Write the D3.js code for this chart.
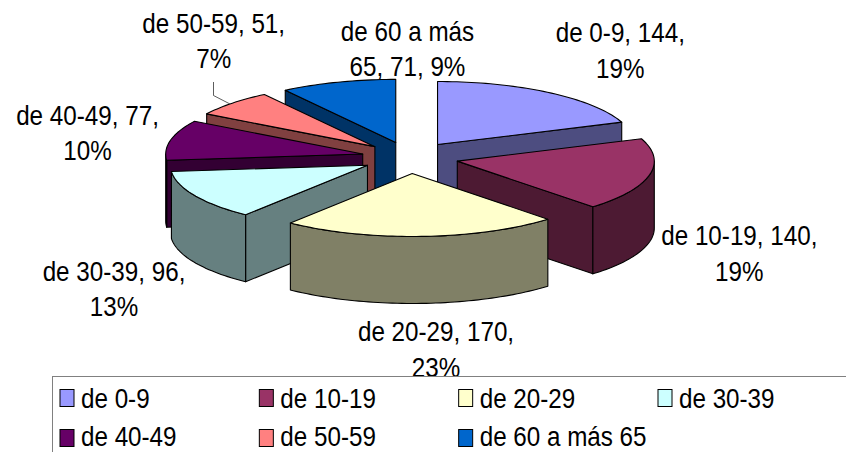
<!DOCTYPE html>
<html>
<head>
<meta charset="utf-8">
<script src="https://cdn.jsdelivr.net/npm/d3@7"></script>
<style>
body { margin: 0; background: #fff; }
text { font-family: "Liberation Sans", Arial, sans-serif; fill: #000; }
</style>
</head>
<body>
<script>
const categories = ['de 0-9', 'de 10-19', 'de 20-29', 'de 30-39', 'de 40-49', 'de 50-59', 'de 60 a más 65'];
const values = [144, 140, 170, 96, 77, 51, 71];
const labelLines = [
    ['de 0-9, 144,', '19%'],
    ['de 10-19, 140,', '19%'],
    ['de 20-29, 170,', '23%'],
    ['de 30-39, 96,', '13%'],
    ['de 40-49, 77,', '10%'],
    ['de 50-59, 51,', '7%'],
    ['de 60 a más', '65, 71, 9%']
];

const topColors = ['#9999ff', '#993366', '#ffffcc', '#ccffff', '#660066', '#ff8080', '#0066cc'];
const wallColors = ['#4d4d80', '#4d1a33', '#808066', '#668080', '#330033', '#804040', '#003366'];

// where each label sits: centre x and first baseline, line step
const labelPos = [[620.3, 41.5, 36], [739.3, 244.5, 36.5], [436, 341, 36], [114, 281, 35], [87.5, 125, 35], [213.7, 32.5, 35.5], [407.5, 41, 35]];

// back to front
const drawOrder = [6, 5, 4, 0, 1, 3, 2];

const width = 846, height = 452;
const center = {x: 410, y: 157.6};
const radiusX = 197, radiusY = 63, depth = 67;
const explodeX = 48.5, explodeY = 15.9;

const svg = d3.select('body').append('svg')
    .attr('width', width)
    .attr('height', height)
    .style('display', 'block');

const scaleX = d3.scaleLinear().domain([-1, 1]).range([-radiusX, radiusX]);
const scaleY = d3.scaleLinear().domain([-1, 1]).range([-radiusY, radiusY]);

const slices = d3.pie().sort(null)(values);
const line = d3.line();

function rimPoints(a0, a1, ox, oy) {
    const n = Math.max(2, Math.ceil((a1 - a0) * 40));
    return d3.range(n + 1).map(i => {
        const a = a0 + (a1 - a0) * i / n;
        return [ox + scaleX(Math.sin(a)), oy + scaleY(-Math.cos(a))];
    });
}

const pieG = svg.append('g');

drawOrder.forEach(i => {
    const s = slices[i];
    const mid = (s.startAngle + s.endAngle) / 2;
    const ox = center.x + explodeX * Math.sin(mid);
    const oy = center.y - explodeY * Math.cos(mid);
    const g = pieG.append('g').attr('class', 'slice');

    const wall = pts => g.append('path')
        .attr('d', line(pts) + 'Z')
        .attr('fill', wallColors[i])
        .attr('stroke', '#000')
        .attr('stroke-width', 1.1)
        .attr('stroke-linejoin', 'round');

    const radial = a => {
        const p = rimPoints(a, a, ox, oy)[0];
        wall([[ox, oy], p, [p[0], p[1] + depth], [ox, oy + depth]]);
    };
    if (Math.sin(s.startAngle) < 0) radial(s.startAngle);
    if (Math.sin(s.endAngle) > 0) radial(s.endAngle);

    // outer rim, only the part that faces the viewer
    const a0 = Math.max(s.startAngle, Math.PI / 2);
    const a1 = Math.min(s.endAngle, Math.PI * 1.5);
    if (a1 > a0) {
        const rim = rimPoints(a0, a1, ox, oy);
        wall(rim.concat(rim.map(p => [p[0], p[1] + depth]).reverse()));
    }

    g.append('path')
        .attr('d', line([[ox, oy]].concat(rimPoints(s.startAngle, s.endAngle, ox, oy))) + 'Z')
        .attr('fill', topColors[i])
        .attr('stroke', '#000')
        .attr('stroke-width', 1.1)
        .attr('stroke-linejoin', 'round');
});

// leader line of de 50-59
svg.append('path')
    .attr('d', line([[213.5, 82], [213.5, 95.5], [230, 104]]))
    .attr('fill', 'none')
    .attr('stroke', '#333')
    .attr('stroke-width', 0.8);

// the original text is narrow and tall, so squeeze it sideways
const labels = svg.append('g').selectAll('g')
    .data(labelLines)
    .enter()
    .append('g');

labels.selectAll('text')
    .data((d, i) => d.map((t, k) => ({t, k, pos: labelPos[i]})))
    .enter()
    .append('text')
    .attr('text-anchor', 'middle')
    .attr('font-size', 28.5)
    .attr('transform', d => `translate(${d.pos[0]}, ${d.pos[1] + d.k * d.pos[2]}) scale(0.85, 1)`)
    .text(d => d.t);

// legend, covers the bottom of the 23% label
svg.append('rect')
    .attr('x', 52.5)
    .attr('y', 376.5)
    .attr('width', width)
    .attr('height', 100)
    .attr('fill', '#fff')
    .attr('stroke', '#808080')
    .attr('stroke-width', 1);

const legendCol = d3.scaleLinear().domain([0, 3]).range([60, 658]);
const legendRow = d3.scaleLinear().domain([0, 1]).range([389.5, 429.5]);
const legendBase = d3.scaleLinear().domain([0, 1]).range([408, 446]);

const legend = svg.append('g').selectAll('g')
    .data(categories)
    .enter()
    .append('g');

legend.append('rect')
    .attr('x', (d, i) => legendCol(i % 4))
    .attr('y', (d, i) => legendRow(Math.floor(i / 4)))
    .attr('width', 14)
    .attr('height', 17)
    .attr('fill', (d, i) => topColors[i])
    .attr('stroke', '#000')
    .attr('stroke-width', 1);

legend.append('text')
    .attr('transform', (d, i) => `translate(${legendCol(i % 4) + 21}, ${legendBase(Math.floor(i / 4))}) scale(0.865, 1)`)
    .attr('font-size', 28)
    .text(d => d);
</script>
</body>
</html>
